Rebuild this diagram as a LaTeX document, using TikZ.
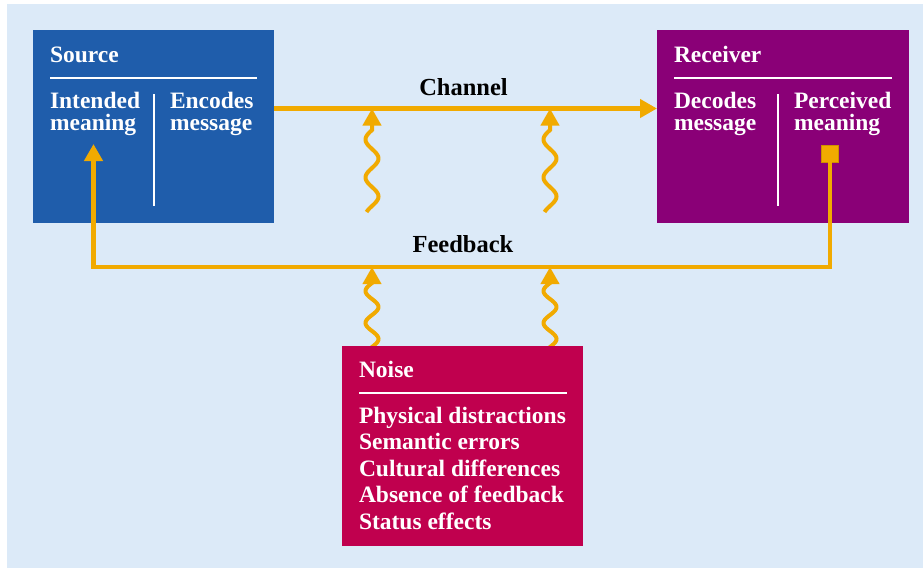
\documentclass[tikz,border=0pt]{standalone}
\usepackage{fontspec}
\setmainfont{Liberation Serif}
\usetikzlibrary{arrows.meta}
\definecolor{bgblue}{HTML}{DCEAF8}
\definecolor{srcblue}{HTML}{1F5DAB}
\definecolor{rcvpurple}{HTML}{8A0077}
\definecolor{noisered}{HTML}{C0004E}
\definecolor{arroworange}{HTML}{F1AA00}
\newcommand\nwave[5]{% cx, bottom y, wave top y, tip y, period
  \draw[wave] plot[domain=#2:#3, samples=100, smooth] ({#1 - 6.5*sin((\x-#3)/#5*360)}, \x) -- (#1,#4);}
\begin{document}
\begin{tikzpicture}[x=1pt,y=-1pt,
  box/.style={rectangle, inner sep=0pt, outer sep=0pt, anchor=north west},
  txt/.style={inner sep=0pt, outer sep=0pt, anchor=base west, text=white,
    font=\fontsize{23.5}{25}\selectfont\bfseries},
  lbl/.style={inner sep=0pt, outer sep=0pt, anchor=base, text=black,
    font=\fontsize{24.5}{26}\selectfont\bfseries},
  rulew/.style={white, line width=2.5pt},
  divw/.style={white, line width=2pt},
  conn/.style={arroworange, line width=4.5pt, line join=miter,
    -{Triangle[length=17pt,width=18pt]}},
  wave/.style={arroworange, line width=4pt,
    -{Triangle[length=17pt,width=18pt]}}]
\useasboundingbox (0,0) rectangle (923,568);
\fill[bgblue] (7,4) rectangle (923,568);

% boxes
\node[box, fill=srcblue, minimum width=241pt, minimum height=193pt] (source) at (33,30) {};
\node[box, fill=rcvpurple, minimum width=252pt, minimum height=193pt] (receiver) at (657,30) {};

% source contents
\node[txt] (srctitle) at (50,62) {Source};
\draw[rulew] (50,78) -- (257,78);
\draw[divw] (154,94) -- (154,206);
\node[txt] (im1) at (50,108) {Intended};
\node[txt] (im2) at (50,130) {meaning};
\node[txt] (em1) at (170,108) {Encodes};
\node[txt] (em2) at (170,130) {message};

% receiver contents
\node[txt] (rcvtitle) at (674,62) {Receiver};
\draw[rulew] (674,78) -- (892,78);
\draw[divw] (777.5,94) -- (777.5,206);
\node[txt] (dm1) at (674,108) {Decodes};
\node[txt] (dm2) at (674,130) {message};
\node[txt] (pm1) at (794,108) {Perceived};
\node[txt] (pm2) at (794,130) {meaning};

% channel
\coordinate (chy) at (0,108.5);
\draw[conn] (source.east |- chy) -- (receiver.west |- chy);
\node[lbl] (chlabel) at (463.5,95) {Channel};

% feedback
\node[rectangle, fill=arroworange, draw=arroworange!85!black, line width=0.5pt,
  minimum size=17pt, inner sep=0pt] (pmsq) at (830,153.5) {};
\coordinate (fby) at (0,267);
\coordinate (imtip) at (93.5,144);
\draw[conn] (pmsq.south) -- (pmsq.south |- fby) -- (fby -| imtip) -- (imtip);
\node[lbl] (fblabel) at (463,252) {Feedback};

% noise waves
\nwave{372}{212}{130}{108.5}{38}
\nwave{550}{212}{130}{108.5}{38}
\nwave{372}{348}{283}{267}{32}
\nwave{550}{348}{283}{267}{32}

% noise box
\node[box, fill=noisered, minimum width=241pt, minimum height=200pt] (noise) at (342,346) {};
\node[txt] (ntitle) at (359,377) {Noise};
\draw[rulew] (359,393) -- (567,393);
\node[txt] (n1) at (359,423) {Physical distractions};
\node[txt] (n2) at (359,449.5) {Semantic errors};
\node[txt] (n3) at (359,476) {Cultural differences};
\node[txt] (n4) at (359,502.5) {Absence of feedback};
\node[txt] (n5) at (359,529) {Status effects};
\end{tikzpicture}
\end{document}
